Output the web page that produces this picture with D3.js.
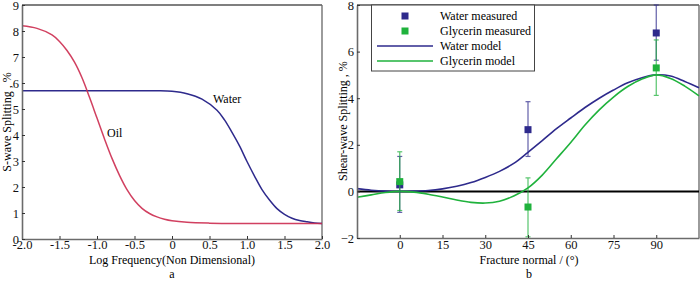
<!DOCTYPE html>
<html><head><meta charset="utf-8">
<script src="https://cdn.jsdelivr.net/npm/d3@7"></script>
<style>
body{margin:0;background:#fff;}
svg{display:block;font-family:"Liberation Serif","Times New Roman",serif;}
</style></head>
<body>
<svg id="c" width="700" height="282"></svg>
<script>
// ---- Panel a data ----
const freqX = [-2,-1.8,-1.6,-1.5,-1.4,-1.3,-1.2,-1.1,-1.0,-0.9,-0.8,-0.7,-0.6,-0.5,-0.4,-0.3,-0.2,-0.1,0,0.2,0.5,1.0,1.5,2.0];
const oilY  = [8.2,8.1,7.85,7.6,7.25,6.8,6.2,5.45,4.65,3.85,3.1,2.45,1.9,1.48,1.18,0.98,0.85,0.76,0.7,0.64,0.61,0.6,0.6,0.6];
const waterFreqX = [-2,-1,-0.5,-0.2,0,0.2,0.4,0.6,0.7,0.8,0.9,1.0,1.1,1.2,1.3,1.4,1.5,1.6,1.7,1.8,1.9,2.0];
const waterY     = [5.7,5.7,5.7,5.7,5.68,5.59,5.38,4.95,4.58,4.1,3.58,2.98,2.42,1.9,1.5,1.17,0.95,0.8,0.71,0.66,0.62,0.6];
const aXTicks = [-2,-1.5,-1,-0.5,0,0.5,1,1.5,2];
const aYTicks = [0,1,2,3,4,5,6,7,8,9];

// ---- Panel b data ----
const angleX = [-15,-10,-5,0,5,10,15,20,25,30,35,40,45,50,55,60,65,70,75,80,85,90,95,100,105];
const waterModel    = [0.12,0.05,0.01,0,0.01,0.04,0.11,0.22,0.38,0.6,0.86,1.2,1.68,2.18,2.69,3.15,3.6,4.0,4.35,4.66,4.88,5.0,4.95,4.72,4.45];
const glycerinModel = [-0.25,-0.15,-0.05,0,-0.03,-0.12,-0.24,-0.37,-0.47,-0.5,-0.42,-0.2,0.15,0.7,1.4,2.1,2.85,3.5,4.05,4.5,4.82,5.0,4.85,4.52,4.1];
const measAngles = [0,45,90];
const waterMeas     = [0.28,2.65,6.8];
const waterErrLo    = [-0.9,1.5,5.63];
const waterErrHi    = [1.5,3.85,8.0];
const glyMeas       = [0.42,-0.67,5.3];
const glyErrLo      = [-0.82,-1.95,4.12];
const glyErrHi      = [1.7,0.58,6.5];
const bXTicks = [0,15,30,45,60,75,90];
const bYTicks = [-2,0,2,4,6,8];

const RED="#cc2b4f", BLUE="#2e2a8c", GREEN="#1fb23c", AX="#6b6b6b";
const SERIF = "Liberation Serif, Times New Roman, serif";
const svg = d3.select("#c");
const FS = "12px";

function frame(g, x0,x1,y0,y1){
  g.append("line").attr("x1",x0).attr("x2",x1).attr("y1",y0).attr("y2",y0).attr("stroke","#555").attr("stroke-width",1.3);
  g.append("line").attr("x1",x1).attr("x2",x1).attr("y1",y0).attr("y2",y1).attr("stroke","#666").attr("stroke-width",1.3);
}
function styleAxis(sel){
  sel.attr("font-family",SERIF).attr("font-size",FS);
  sel.select(".domain").attr("stroke",AX).attr("stroke-width",1.6);
  sel.selectAll(".tick line").attr("stroke","#333").attr("stroke-width",1);
  sel.selectAll("text").attr("font-family",SERIF).attr("font-size","12.5px").attr("fill","#111");
}

// ===== Panel a =====
const ax = d3.scaleLinear().domain([-2,2]).range([22,322]);
const ay = d3.scaleLinear().domain([0,9]).range([239,5]);
const ga = svg.append("g");
frame(ga, 22,322,5,239);
const aLine = d3.line().curve(d3.curveCatmullRom.alpha(0.5));
ga.append("path").attr("d", aLine(waterFreqX.map((x,i)=>[ax(x),ay(waterY[i])])))
  .attr("fill","none").attr("stroke",BLUE).attr("stroke-width",1.5);
ga.append("path").attr("d", aLine(freqX.map((x,i)=>[ax(x),ay(oilY[i])])))
  .attr("fill","none").attr("stroke",RED).attr("stroke-width",1.5).attr("opacity",0.9);
ga.append("g").attr("transform","translate(0,239)")
  .call(d3.axisBottom(ax).tickValues(aXTicks).tickSizeInner(-3).tickSizeOuter(0).tickPadding(1.5)
    .tickFormat(d=> d===0 ? "0" : d.toFixed(1)))
  .call(styleAxis);
ga.append("g").attr("transform","translate(22,0)")
  .call(d3.axisLeft(ay).tickValues(aYTicks).tickSizeInner(-3).tickSizeOuter(0).tickPadding(3).tickFormat(d3.format("d")))
  .call(styleAxis);
ga.append("text").attr("x",213).attr("y",103).attr("font-size","12px").text("Water");
ga.append("text").attr("x",107).attr("y",137).attr("font-size","12px").text("Oil");
ga.append("text").attr("x",172).attr("y",264).attr("text-anchor","middle").attr("font-size",FS).text("Log Frequency(Non Dimensional)");
ga.append("text").attr("x",172).attr("y",278).attr("text-anchor","middle").attr("font-size",FS).text("a");
ga.append("text").attr("transform","translate(11,122) rotate(-90)").attr("text-anchor","middle").attr("font-size","12px").text("S-wave Splitting , %");

// ===== Panel b =====
const bx = d3.scaleLinear().domain([-15,105]).range([357,699]);
const by = d3.scaleLinear().domain([-2,8]).range([238,5]);
const gb = svg.append("g");
frame(gb, 357,699,5,238);
gb.append("line").attr("x1",bx(-15)).attr("x2",bx(105)).attr("y1",by(0)).attr("y2",by(0))
  .attr("stroke","#000").attr("stroke-width",2);
const bLine = d3.line().curve(d3.curveCatmullRom.alpha(0.5));
gb.append("path").attr("d", bLine(angleX.map((x,i)=>[bx(x),by(waterModel[i])])))
  .attr("fill","none").attr("stroke",BLUE).attr("stroke-width",1.6);
gb.append("path").attr("d", bLine(angleX.map((x,i)=>[bx(x),by(glycerinModel[i])])))
  .attr("fill","none").attr("stroke",GREEN).attr("stroke-width",1.6);

function errSeries(vals, lo, hi, color){
  measAngles.forEach((a,i)=>{
    const x=bx(a);
    const g=gb.append("g").attr("stroke",color).attr("stroke-width",1.2).attr("opacity",0.75);
    g.append("line").attr("x1",x).attr("x2",x).attr("y1",by(lo[i])).attr("y2",by(hi[i]));
    g.append("line").attr("x1",x-2.5).attr("x2",x+2.5).attr("y1",by(lo[i])).attr("y2",by(lo[i]));
    g.append("line").attr("x1",x-2.5).attr("x2",x+2.5).attr("y1",by(hi[i])).attr("y2",by(hi[i]));
  });
}
function squares(vals,color){
  gb.append("g").selectAll("rect").data(measAngles).join("rect")
    .attr("x",d=>bx(d)-3.5).attr("y",(d,i)=>by(vals[i])-3.5).attr("width",7).attr("height",7).attr("fill",color);
}
errSeries(waterMeas,waterErrLo,waterErrHi,BLUE);
squares(waterMeas,BLUE);
errSeries(glyMeas,glyErrLo,glyErrHi,GREEN);
squares(glyMeas,GREEN);

gb.append("g").attr("transform","translate(0,238)")
  .call(d3.axisBottom(bx).tickValues(bXTicks).tickSizeInner(-3).tickSizeOuter(0).tickPadding(2.5).tickFormat(d3.format("d")))
  .call(styleAxis);
gb.append("g").attr("transform","translate(357,0)")
  .call(d3.axisLeft(by).tickValues(bYTicks).tickSizeInner(-3).tickSizeOuter(0).tickPadding(3).tickFormat(d3.format("d")))
  .call(styleAxis);
gb.append("text").attr("x",529).attr("y",264).attr("text-anchor","middle").attr("font-size",FS).text("Fracture normal / (°)");
gb.append("text").attr("x",529).attr("y",278).attr("text-anchor","middle").attr("font-size",FS).text("b");
gb.append("text").attr("transform","translate(347,121) rotate(-90)").attr("text-anchor","middle").attr("font-size","12px").text("Shear-wave Splitting , %");

// legend
const lg = gb.append("g");
lg.append("rect").attr("x",371.5).attr("y",5).attr("width",163).attr("height",66)
  .attr("fill","#fff").attr("stroke","#444").attr("stroke-width",1);
const legendItems = [
  {label:"Water measured", color:BLUE, type:"sq"},
  {label:"Glycerin measured", color:GREEN, type:"sq"},
  {label:"Water model", color:BLUE, type:"ln"},
  {label:"Glycerin model", color:GREEN, type:"ln"}
];
legendItems.forEach((d,i)=>{
  const y = 16 + i*15;
  if(d.type==="sq") lg.append("rect").attr("x",401.5).attr("y",y-3.5).attr("width",7).attr("height",7).attr("fill",d.color);
  else lg.append("line").attr("x1",377).attr("x2",433).attr("y1",y).attr("y2",y).attr("stroke",d.color).attr("stroke-width",1.6);
  lg.append("text").attr("x",440).attr("y",y+4).attr("font-size","12px").text(d.label);
});
</script>
</body></html>
